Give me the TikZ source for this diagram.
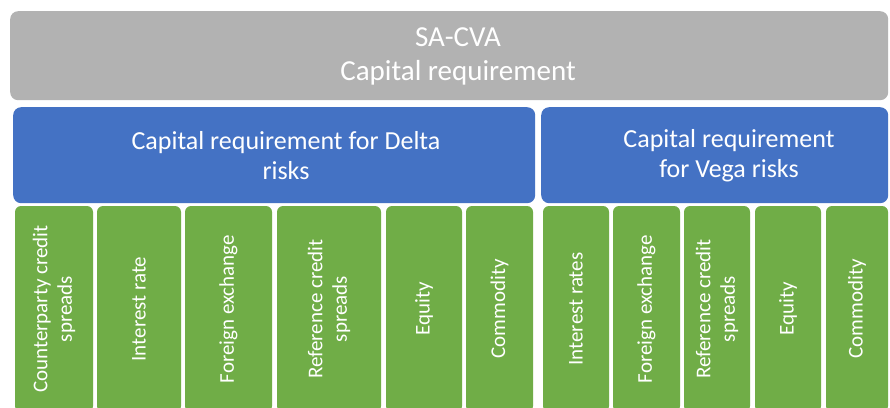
\documentclass[tikz,border=0pt]{standalone}
\usepackage{fontspec}
\setmainfont{Carlito}
\definecolor{boxgray}{RGB}{178,178,178}
\definecolor{boxblue}{RGB}{68,114,196}
\definecolor{boxgreen}{RGB}{112,173,71}
\tikzset{
  graybox/.style={fill=boxgray, draw=none, rounded corners=8pt, inner sep=0pt, anchor=north west},
  bluebox/.style={fill=boxblue, draw=none, rounded corners=8pt, inner sep=0pt, anchor=north west},
  greenbox/.style={fill=boxgreen, draw=none, rounded corners=6pt, inner sep=0pt, rotate=90,
    text=white, align=center, font=\fontsize{21}{24.5}\selectfont},
  toptext/.style={text=white, align=center, inner sep=0pt, font=\fontsize{29}{34}\selectfont},
  bluetext/.style={text=white, align=center, inner sep=0pt, font=\fontsize{26}{30}\selectfont},
}
\newcommand{\gbox}[4]{% name, x1, x2, text
  \pgfmathsetmacro{\gw}{#3-#2}
  \pgfmathsetmacro{\gc}{(#2+#3)/2}
  \node[greenbox, minimum width=206pt, minimum height=\gw pt] (#1) at (\gc,309) {#4};
}
\begin{document}
\begin{tikzpicture}[x=1pt,y=-1pt]
\path[use as bounding box] (0,0) rectangle (890,407);
\clip (0,0) rectangle (890,407);
\fill[white] (0,0) rectangle (890,407);
% top
\node[graybox, minimum width=878pt, minimum height=89pt] (top) at (10,11) {};
\node[toptext] (toplabel) at (458,56) {SA-CVA\\Capital requirement};
% blue
\node[bluebox, minimum width=522pt, minimum height=96pt] (delta) at (13,107) {};
\node[bluetext] (deltalabel) at (286,156) {Capital requirement for Delta\\risks};
\node[bluebox, minimum width=347pt, minimum height=96pt] (vega) at (541,107) {};
\node[bluetext] (vegalabel) at (729,156) {Capital requirement\\for Vega risks};
% green
\gbox{g1}{15}{93}{Counterparty credit\\spreads}
\gbox{g2}{97}{181}{Interest rate}
\gbox{g3}{185}{272}{Foreign exchange}
\gbox{g4}{277}{381}{Reference credit\\spreads}
\gbox{g5}{386}{462}{Equity}
\gbox{g6}{466}{533}{Commodity}
\gbox{g7}{543}{609}{Interest rates}
\gbox{g8}{613}{680}{Foreign exchange}
\gbox{g9}{684}{750}{Reference credit\\spreads}
\gbox{g10}{755}{821}{Equity}
\gbox{g11}{826}{888}{Commodity}
\end{tikzpicture}
\end{document}
